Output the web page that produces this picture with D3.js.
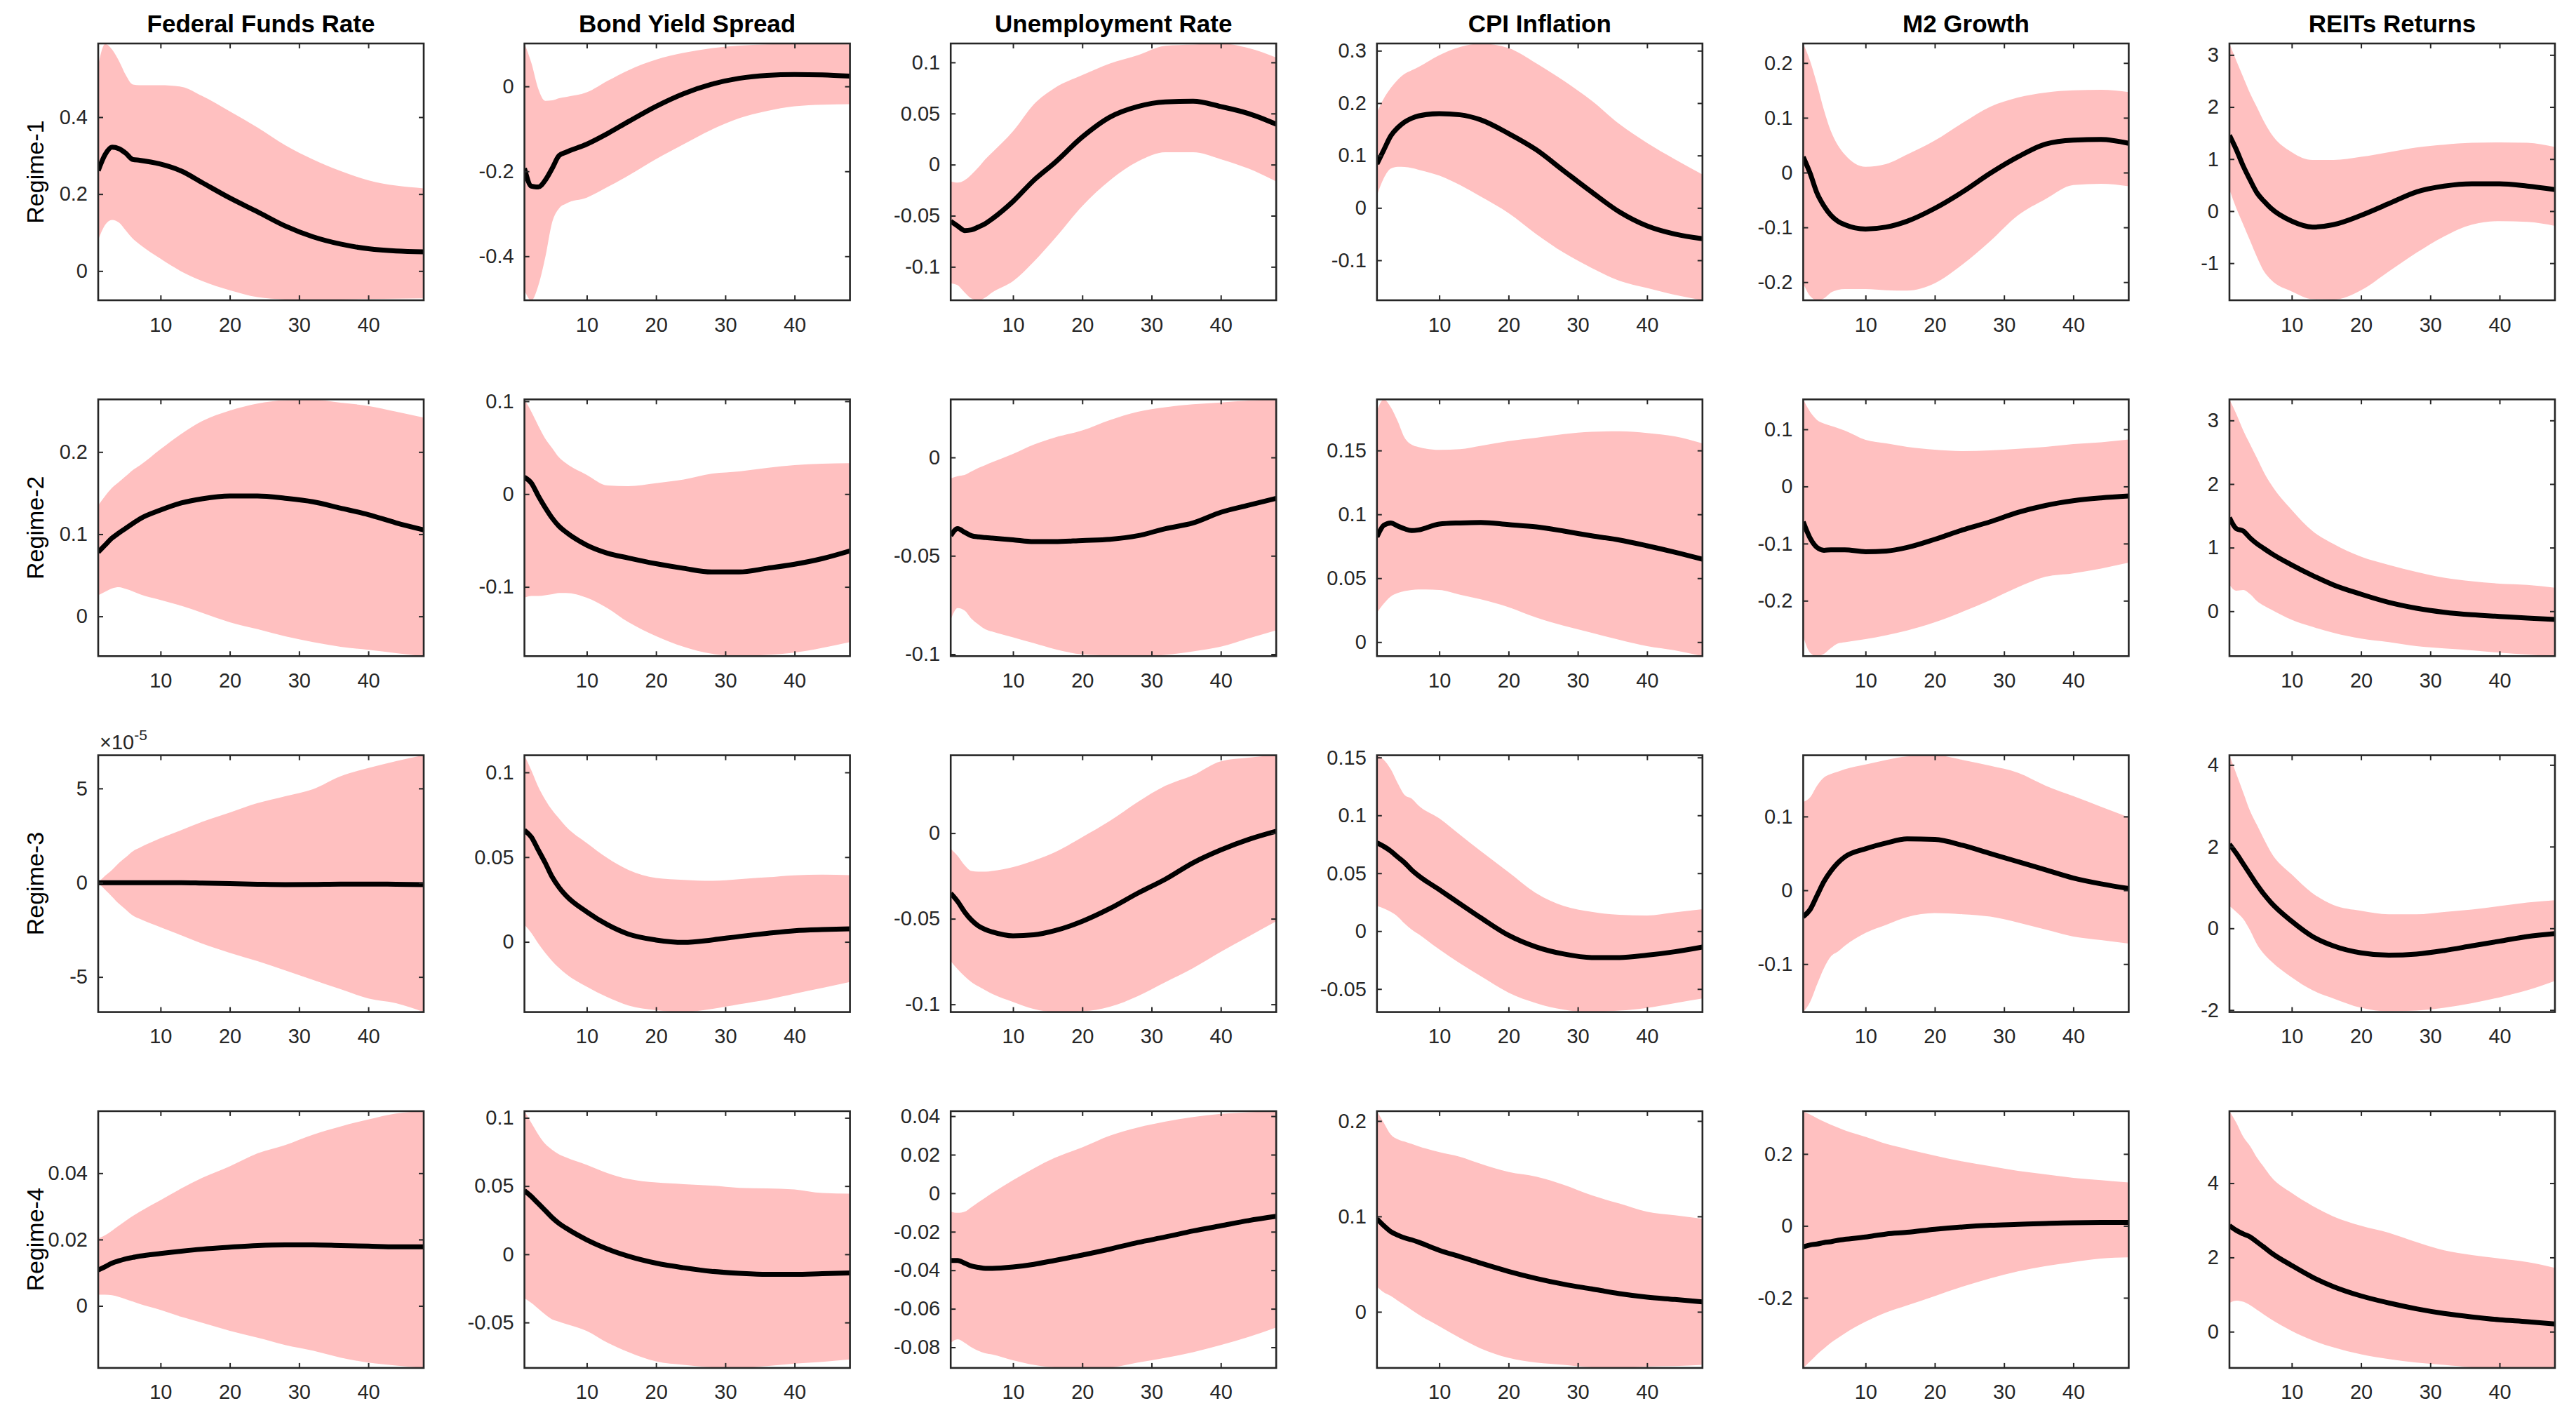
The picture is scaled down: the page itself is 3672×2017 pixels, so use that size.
<!DOCTYPE html>
<html><head><meta charset="utf-8">
<script src="https://cdn.jsdelivr.net/npm/d3@7"></script>
<style>html,body{margin:0;padding:0;background:#fff}</style>
</head><body><svg id="chart"></svg>
<script>
// ---------------- DATA ----------------
const variables = ["Federal Funds Rate","Bond Yield Spread","Unemployment Rate","CPI Inflation","M2 Growth","REITs Returns"];
const regimes = ["Regime-1","Regime-2","Regime-3","Regime-4"];
const horizons = [1,2,3,4,5,6,7,10,13,16,20,24,28,32,36,40,44,48];
const xTicks = [10,20,30,40];

// Federal Funds Rate [regime][horizon]
const ffrMedian = [
 [0.261,0.303,0.322,0.318,0.306,0.29,0.288,0.278,0.26,0.23,0.19,0.154,0.117,0.089,0.07,0.058,0.052,0.05],
 [0.0782,0.0868,0.0953,0.1016,0.1073,0.113,0.1186,0.1294,0.138,0.1431,0.1465,0.1465,0.1437,0.1394,0.1317,0.1238,0.1138,0.1053],
 [0,0,0,0,0,0,0,0,0,-0.02e-5,-0.05e-5,-0.08e-5,-0.1e-5,-0.09e-5,-0.07e-5,-0.07e-5,-0.08e-5,-0.1e-5],
 [0.0108,0.0118,0.0129,0.0136,0.0142,0.0146,0.015,0.0158,0.0165,0.0171,0.0177,0.0182,0.0184,0.0184,0.0182,0.018,0.0178,0.0178]];
const ffrUpper = [
 [0.534,0.59,0.576,0.546,0.509,0.485,0.483,0.483,0.479,0.455,0.415,0.373,0.327,0.29,0.26,0.236,0.222,0.215],
 [0.135,0.1465,0.1565,0.1636,0.1707,0.178,0.1835,0.2034,0.222,0.2375,0.2504,0.259,0.263,0.2637,0.26,0.256,0.249,0.2418],
 [0,0.37e-5,0.68e-5,1.05e-5,1.36e-5,1.67e-5,1.86e-5,2.36e-5,2.79e-5,3.23e-5,3.72e-5,4.22e-5,4.59e-5,4.96e-5,5.65e-5,6.08e-5,6.45e-5,6.76e-5],
 [0.0203,0.0213,0.0227,0.0242,0.0257,0.0271,0.0284,0.0319,0.0354,0.0386,0.0421,0.046,0.0485,0.0516,0.0541,0.0562,0.058,0.0587]];
const ffrLower = [
 [0.081,0.12,0.133,0.126,0.105,0.084,0.069,0.032,-0.001,-0.026,-0.05,-0.068,-0.074,-0.076,-0.074,-0.073,-0.072,-0.071],
 [0.0256,0.0299,0.0341,0.0356,0.0333,0.0304,0.027,0.0199,0.0128,0.0043,-0.0071,-0.0156,-0.0242,-0.0313,-0.037,-0.0407,-0.0447,-0.0484],
 [0,-0.37e-5,-0.74e-5,-1.12e-5,-1.43e-5,-1.74e-5,-1.92e-5,-2.36e-5,-2.79e-5,-3.23e-5,-3.72e-5,-4.16e-5,-4.65e-5,-5.15e-5,-5.65e-5,-6.14e-5,-6.39e-5,-6.86e-5],
 [0.0034,0.0034,0.0032,0.0027,0.002,0.0013,0.0006,-0.0012,-0.0033,-0.0051,-0.0075,-0.0096,-0.0118,-0.0135,-0.0156,-0.0171,-0.018,-0.0187]];

// Bond Yield Spread
const bysMedian = [
 [-0.193,-0.235,-0.237,-0.221,-0.193,-0.163,-0.155,-0.136,-0.111,-0.083,-0.047,-0.017,0.005,0.019,0.026,0.028,0.027,0.024],
 [0.0181,0.0118,-0.002,-0.0146,-0.0259,-0.0348,-0.041,-0.055,-0.0637,-0.0688,-0.075,-0.08,-0.0839,-0.0839,-0.08,-0.0756,-0.0695,-0.0612],
 [0.0659,0.0618,0.0542,0.0466,0.0383,0.0321,0.0273,0.0177,0.0101,0.0046,0.0011,-0.0003,0.0011,0.0032,0.005,0.0066,0.0073,0.0077],
 [0.0466,0.0423,0.0372,0.0321,0.0269,0.0226,0.0192,0.0106,0.0038,-0.0014,-0.0065,-0.0099,-0.0125,-0.0139,-0.0147,-0.0147,-0.0142,-0.0137]];
const bysUpper = [
 [0.101,0.055,-0.006,-0.034,-0.033,-0.028,-0.025,-0.014,0.013,0.038,0.063,0.079,0.09,0.096,0.099,0.1,0.1,0.099],
 [0.102,0.0887,0.0735,0.0597,0.0496,0.0395,0.0332,0.0207,0.0093,0.0086,0.0118,0.0156,0.0219,0.0244,0.0282,0.0312,0.0327,0.0332],
 [0.110,0.1011,0.0914,0.0839,0.0777,0.0728,0.068,0.0583,0.0494,0.0425,0.0377,0.0366,0.036,0.037,0.0381,0.0393,0.0397,0.0394],
 [0.1049,0.0963,0.0878,0.0809,0.0766,0.0732,0.071,0.0655,0.0595,0.0552,0.0526,0.0514,0.0504,0.0487,0.0483,0.0475,0.0449,0.0444]];
const bysLower = [
 [-0.48,-0.504,-0.469,-0.403,-0.32,-0.287,-0.276,-0.262,-0.237,-0.21,-0.171,-0.136,-0.102,-0.075,-0.058,-0.047,-0.043,-0.042],
 [-0.1116,-0.1098,-0.1098,-0.109,-0.1078,-0.1065,-0.1065,-0.1116,-0.1229,-0.138,-0.153,-0.1645,-0.172,-0.1746,-0.1733,-0.1708,-0.1657,-0.1594],
 [0.0101,0.0052,-0.001,-0.0065,-0.0113,-0.0154,-0.0189,-0.0265,-0.0327,-0.0375,-0.0403,-0.0414,-0.0396,-0.0368,-0.0341,-0.0306,-0.0272,-0.0237],
 [-0.0322,-0.0357,-0.0399,-0.0442,-0.0477,-0.0494,-0.0511,-0.0562,-0.0648,-0.0716,-0.0785,-0.0811,-0.0828,-0.0833,-0.0819,-0.0802,-0.0788,-0.0771]];

// Unemployment Rate
const unMedian = [
 [-0.0554,-0.06,-0.0645,-0.0638,-0.061,-0.0577,-0.053,-0.036,-0.0153,0.0018,0.027,0.0465,0.0568,0.0613,0.062,0.0568,0.05,0.0396],
 [-0.0398,-0.0362,-0.038,-0.0398,-0.0404,-0.0407,-0.041,-0.0419,-0.0428,-0.0428,-0.0422,-0.0416,-0.0398,-0.0362,-0.0333,-0.0279,-0.0243,-0.0208],
 [-0.0351,-0.0399,-0.046,-0.0508,-0.0542,-0.0563,-0.0577,-0.06,-0.0594,-0.057,-0.0515,-0.044,-0.0351,-0.0269,-0.0173,-0.0098,-0.0037,0.0011],
 [-0.0349,-0.0349,-0.0363,-0.0378,-0.0385,-0.039,-0.039,-0.0383,-0.0369,-0.0349,-0.0321,-0.029,-0.0256,-0.0227,-0.0196,-0.0169,-0.0142,-0.012]];
const unUpper = [
 [-0.0165,-0.0176,-0.0153,-0.0096,-0.0027,0.0053,0.012,0.0327,0.059,0.075,0.0876,0.099,0.107,0.1162,0.1174,0.1185,0.114,0.1048],
 [-0.0107,-0.0095,-0.0089,-0.0071,-0.0053,-0.0039,-0.0024,0.0018,0.0065,0.0101,0.0137,0.019,0.0232,0.0255,0.027,0.0279,0.0289,0.0295],
 [-0.0092,-0.0133,-0.0187,-0.0221,-0.0225,-0.0225,-0.0221,-0.0198,-0.016,-0.0112,-0.0023,0.0072,0.0182,0.0277,0.0339,0.042,0.0441,0.0455],
 [-0.0096,-0.0102,-0.0096,-0.0072,-0.0047,-0.0023,0.0001,0.0068,0.0129,0.0183,0.0238,0.0299,0.0341,0.0372,0.0396,0.0412,0.042,0.0426]];
const unLower = [
 [-0.116,-0.118,-0.125,-0.131,-0.1327,-0.13,-0.125,-0.114,-0.095,-0.0725,-0.0405,-0.0153,0.003,0.0121,0.0121,0.0053,-0.0039,-0.0165],
 [-0.0825,-0.0766,-0.0778,-0.082,-0.0849,-0.0873,-0.0885,-0.0914,-0.0944,-0.0974,-0.1001,-0.1007,-0.101,-0.1004,-0.0986,-0.0962,-0.092,-0.0879],
 [-0.0747,-0.0795,-0.0836,-0.087,-0.0895,-0.0918,-0.0939,-0.0986,-0.1027,-0.1045,-0.1041,-0.1014,-0.0952,-0.087,-0.0788,-0.0693,-0.0604,-0.0515],
 [-0.0776,-0.0758,-0.0776,-0.08,-0.0818,-0.0831,-0.0837,-0.0867,-0.0891,-0.0904,-0.0907,-0.0904,-0.0879,-0.0855,-0.0825,-0.0788,-0.0746,-0.0697]];

// CPI Inflation
const cpiMedian = [
 [0.084,0.111,0.1375,0.153,0.164,0.171,0.1755,0.18,0.1777,0.168,0.142,0.111,0.0705,0.0304,-0.0076,-0.0344,-0.05,-0.0589],
 [0.0823,0.0915,0.0933,0.0909,0.0887,0.0873,0.0878,0.0924,0.0933,0.0937,0.092,0.0902,0.0869,0.0832,0.0799,0.0754,0.0704,0.0649],
 [0.0762,0.0731,0.0691,0.064,0.059,0.0529,0.0479,0.0358,0.0236,0.0115,-0.0036,-0.0137,-0.0198,-0.0228,-0.0228,-0.0208,-0.0178,-0.0137],
 [0.0975,0.0902,0.0841,0.0804,0.0775,0.0755,0.073,0.0645,0.0578,0.051,0.0424,0.035,0.0289,0.024,0.0191,0.0154,0.013,0.0105]];
const cpiUpper = [
 [0.182,0.209,0.229,0.2446,0.2558,0.2625,0.269,0.2915,0.307,0.3138,0.305,0.276,0.2424,0.2045,0.16,0.124,0.093,0.0638],
 [0.181,0.19,0.1838,0.1729,0.16,0.1546,0.1527,0.1505,0.151,0.1536,0.1573,0.16,0.1628,0.1646,0.165,0.1637,0.161,0.1555],
 [0.1519,0.1479,0.1398,0.1277,0.1176,0.1145,0.1085,0.0974,0.0832,0.0691,0.0509,0.0327,0.0216,0.0166,0.0141,0.0135,0.0162,0.019],
 [0.2103,0.198,0.1858,0.1809,0.1784,0.176,0.1735,0.1674,0.1625,0.1551,0.1466,0.1417,0.1331,0.1221,0.1135,0.1049,0.1012,0.0975]];
const cpiLower = [
 [0.0237,0.057,0.075,0.0786,0.078,0.076,0.0728,0.0616,0.0437,0.0214,-0.0098,-0.05,-0.0857,-0.1147,-0.139,-0.1527,-0.166,-0.1763],
 [0.0229,0.0302,0.0357,0.0384,0.0399,0.0408,0.0412,0.0408,0.0371,0.0335,0.0274,0.0192,0.0128,0.0073,0.0018,-0.0031,-0.0064,-0.011],
 [0.0216,0.0196,0.0166,0.0125,0.0065,0.0014,-0.0026,-0.0158,-0.0279,-0.039,-0.0531,-0.0622,-0.0679,-0.0699,-0.0687,-0.0663,-0.0622,-0.0582],
 [0.0265,0.0203,0.0167,0.0118,0.0069,0.002,-0.0029,-0.0152,-0.0275,-0.0385,-0.0483,-0.0532,-0.0556,-0.0581,-0.0588,-0.0574,-0.0569,-0.0556]];

// M2 Growth
const m2Median = [
 [0.0286,-0.0013,-0.0376,-0.061,-0.078,-0.0888,-0.095,-0.1029,-0.0994,-0.0888,-0.0653,-0.0354,-0.0013,0.0286,0.052,0.0593,0.0606,0.0534],
 [-0.0618,-0.0905,-0.1068,-0.1117,-0.1109,-0.1109,-0.1109,-0.1142,-0.113,-0.1068,-0.0925,-0.0761,-0.0618,-0.0454,-0.0332,-0.025,-0.0201,-0.0168],
 [-0.0357,-0.0261,-0.0071,0.0119,0.0261,0.0372,0.0452,0.0563,0.0642,0.0696,0.0689,0.061,0.0499,0.0388,0.0277,0.0166,0.0087,0.0024],
 [-0.0582,-0.053,-0.0504,-0.0465,-0.0439,-0.04,-0.0374,-0.0309,-0.0224,-0.0179,-0.0094,-0.0029,0.0016,0.0042,0.0068,0.0088,0.0094,0.0094]];
const m2Upper = [
 [0.2356,0.2036,0.161,0.114,0.0755,0.05,0.033,0.0107,0.0158,0.033,0.0585,0.0905,0.12,0.137,0.146,0.15,0.151,0.147],
 [0.1524,0.1306,0.1163,0.1101,0.106,0.102,0.0978,0.0815,0.0753,0.0692,0.0643,0.0618,0.063,0.0659,0.0692,0.0741,0.0774,0.0823],
 [0.1197,0.126,0.1418,0.1529,0.1577,0.1608,0.164,0.1704,0.1767,0.1815,0.183,0.1767,0.1688,0.1593,0.1418,0.1276,0.1133,0.099],
 [0.319,0.3093,0.2995,0.2898,0.2813,0.2735,0.2657,0.2475,0.228,0.2137,0.1954,0.1792,0.1662,0.1532,0.1434,0.1337,0.1272,0.1207]];
const m2Lower = [
 [-0.202,-0.2254,-0.233,-0.2296,-0.219,-0.214,-0.2125,-0.2125,-0.2147,-0.2155,-0.202,-0.1677,-0.125,-0.078,-0.0482,-0.0226,-0.0205,-0.0248],
 [-0.2624,-0.291,-0.297,-0.293,-0.2829,-0.2747,-0.2726,-0.2673,-0.2603,-0.2521,-0.2378,-0.2194,-0.1989,-0.1764,-0.158,-0.1519,-0.1437,-0.1334],
 [-0.165,-0.1513,-0.1276,-0.1054,-0.0896,-0.0832,-0.0753,-0.0578,-0.0468,-0.0363,-0.0309,-0.0325,-0.0357,-0.0436,-0.0531,-0.0626,-0.0674,-0.0721],
 [-0.395,-0.3769,-0.3574,-0.3411,-0.3249,-0.3119,-0.2989,-0.2664,-0.2404,-0.221,-0.195,-0.1689,-0.1461,-0.1267,-0.1117,-0.1005,-0.0908,-0.0876]];

// REITs Returns
const reitMedian = [
 [1.456,1.178,0.863,0.593,0.346,0.189,0.054,-0.193,-0.306,-0.26,-0.081,0.144,0.369,0.481,0.526,0.526,0.481,0.413],
 [1.474,1.298,1.261,1.151,1.059,0.985,0.912,0.728,0.5625,0.415,0.268,0.14,0.048,-0.015,-0.055,-0.081,-0.107,-0.129],
 [2.061,1.832,1.574,1.317,1.059,0.83,0.63,0.172,-0.2,-0.429,-0.601,-0.658,-0.63,-0.544,-0.429,-0.315,-0.2,-0.126],
 [2.854,2.728,2.633,2.551,2.413,2.274,2.129,1.783,1.468,1.216,0.964,0.775,0.617,0.491,0.397,0.321,0.271,0.208]];
const reitUpper = [
 [3.22,2.885,2.57,2.256,1.987,1.717,1.492,1.133,0.984,0.984,1.043,1.133,1.222,1.276,1.312,1.321,1.312,1.231],
 [3.331,3.099,2.842,2.621,2.401,2.18,1.996,1.592,1.261,1.059,0.857,0.728,0.618,0.526,0.471,0.434,0.415,0.371],
 [4.236,3.778,3.32,2.862,2.519,2.175,1.86,1.317,0.859,0.572,0.429,0.343,0.343,0.4,0.458,0.544,0.63,0.687],
 [5.94,5.625,5.247,4.995,4.68,4.428,4.176,3.735,3.389,3.106,2.854,2.665,2.413,2.192,2.066,1.972,1.877,1.72]];
const reitLower = [
 [0.413,0.054,-0.26,-0.575,-0.89,-1.16,-1.317,-1.542,-1.69,-1.7,-1.52,-1.16,-0.8,-0.485,-0.26,-0.193,-0.207,-0.283],
 [0.415,0.324,0.335,0.268,0.158,0.085,0.029,-0.136,-0.246,-0.338,-0.43,-0.485,-0.548,-0.585,-0.614,-0.651,-0.68,-0.706],
 [0.544,0.4,0.229,-0.057,-0.4,-0.63,-0.801,-1.202,-1.517,-1.717,-1.946,-2.032,-2.015,-1.946,-1.832,-1.689,-1.517,-1.288],
 [0.775,0.838,0.806,0.712,0.586,0.46,0.334,0.019,-0.233,-0.422,-0.611,-0.737,-0.831,-0.894,-0.957,-0.976,-0.976,-0.957]];

// Axis limits [variable][regime] and y tick labels
const yLimits = [
 [[-0.076,0.5915],[-0.0484,0.264],[-6.86e-5,6.76e-5],[-0.0187,0.0587]],
 [[-0.5036,0.101],[-0.1746,0.102],[-0.0414,0.1101],[-0.0833,0.1049]],
 [[-0.1327,0.1185],[-0.101,0.0295],[-0.1045,0.0455],[-0.0907,0.0426]],
 [[-0.1763,0.3138],[-0.011,0.19],[-0.0699,0.1519],[-0.0588,0.2103]],
 [[-0.233,0.2356],[-0.297,0.1524],[-0.165,0.183],[-0.395,0.319]],
 [[-1.712,3.22],[-0.706,3.331],[-2.049,4.236],[-0.976,5.94]]];
const yTicks = [
 [[0,0.2,0.4],[0,0.1,0.2],[-5e-5,0,5e-5],[0,0.02,0.04]],
 [[-0.4,-0.2,0],[-0.1,0,0.1],[0,0.05,0.1],[-0.05,0,0.05,0.1]],
 [[-0.1,-0.05,0,0.05,0.1],[-0.1,-0.05,0],[-0.1,-0.05,0],[-0.08,-0.06,-0.04,-0.02,0,0.02,0.04]],
 [[-0.1,0,0.1,0.2,0.3],[0,0.05,0.1,0.15],[-0.05,0,0.05,0.1,0.15],[0,0.1,0.2]],
 [[-0.2,-0.1,0,0.1,0.2],[-0.2,-0.1,0,0.1],[-0.1,0,0.1],[-0.2,0,0.2]],
 [[-1,0,1,2,3],[0,1,2,3],[-2,0,2,4],[0,2,4]]];
// exponent shown above an axis (only Regime-3 Federal Funds Rate)
const yExponent = [[0,0,-5,0],[0,0,0,0],[0,0,0,0],[0,0,0,0],[0,0,0,0],[0,0,0,0]];

const medians = [ffrMedian,bysMedian,unMedian,cpiMedian,m2Median,reitMedian];
const uppers = [ffrUpper,bysUpper,unUpper,cpiUpper,m2Upper,reitUpper];
const lowers = [ffrLower,bysLower,unLower,cpiLower,m2Lower,reitLower];

// ---------------- LAYOUT ----------------
const W = 3672, H = 2017;
const left0 = 140, colStep = 607.6, pw = 464;
const top0 = 62, rowStep = 507.3, ph = 366;
const FONT = "'Liberation Sans', Arial, Helvetica, sans-serif";
const BAND = "#FFC0C0";
const AX = "#262626";

const svg = d3.select("#chart").attr("width", W).attr("height", H)
  .attr("viewBox", `0 0 ${W} ${H}`).style("font-family", FONT);
svg.append("rect").attr("width", W).attr("height", H).attr("fill", "#fff");
const defs = svg.append("defs");

const fmt = v => String(+v.toPrecision(6));

regimes.forEach((reg, r) => {
  variables.forEach((vname, c) => {
    const px = left0 + c * colStep, py = top0 + r * rowStep;
    const g = svg.append("g").attr("transform", `translate(${px},${py})`);
    const x = d3.scaleLinear().domain([1, 48]).range([0, pw]);
    const y = d3.scaleLinear().domain(yLimits[c][r]).range([ph, 0]);
    const id = `clip-${r}-${c}`;
    defs.append("clipPath").attr("id", id).append("rect").attr("width", pw).attr("height", ph);

    const pts = horizons.map((h, i) => ({h, m: medians[c][r][i], lo: lowers[c][r][i], hi: uppers[c][r][i]}));
    const plot = g.append("g").attr("clip-path", `url(#${id})`);
    plot.append("path").datum(pts)
      .attr("d", d3.area().x(d => x(d.h)).y0(d => y(d.lo)).y1(d => y(d.hi)).curve(d3.curveMonotoneX))
      .attr("fill", BAND).attr("stroke", "none");
    plot.append("path").datum(pts)
      .attr("d", d3.line().x(d => x(d.h)).y(d => y(d.m)).curve(d3.curveMonotoneX))
      .attr("fill", "none").attr("stroke", "#000").attr("stroke-width", 7)
      .attr("stroke-linejoin", "round").attr("stroke-linecap", "butt");

    const ex = yExponent[c][r];
    const tf = ex ? (v => fmt(v / Math.pow(10, ex))) : fmt;
    const styleAxis = sel => {
      sel.select(".domain").remove();
      sel.selectAll("line").attr("stroke", AX).attr("stroke-width", 2);
      sel.selectAll("text").attr("fill", AX).style("font-size", "29px").style("font-family", FONT);
    };
    g.append("g").call(d3.axisLeft(y).tickValues(yTicks[c][r]).tickSize(-7).tickPadding(15).tickFormat(tf)).call(styleAxis);
    g.append("g").attr("transform", `translate(${pw},0)`)
      .call(d3.axisRight(y).tickValues(yTicks[c][r]).tickSize(-7).tickFormat("")).call(styleAxis);
    g.append("g").attr("transform", `translate(0,${ph})`)
      .call(d3.axisBottom(x).tickValues(xTicks).tickSize(-7).tickPadding(24).tickFormat(d3.format("d"))).call(styleAxis);
    g.append("g")
      .call(d3.axisTop(x).tickValues(xTicks).tickSize(-7).tickFormat("")).call(styleAxis);

    g.append("rect").attr("width", pw).attr("height", ph)
      .attr("fill", "none").attr("stroke", AX).attr("stroke-width", 2.6);

    if (ex) {
      const t = g.append("text").attr("x", 2).attr("y", -9).attr("fill", AX)
        .style("font-size", "29px");
      t.append("tspan").text("×10");
      t.append("tspan").attr("dy", -13).style("font-size", "21px").text(String(ex));
    }
    if (r === 0) {
      g.append("text").attr("x", pw / 2).attr("y", -16).attr("text-anchor", "middle")
        .attr("fill", "#000").style("font-size", "35px").style("font-weight", "bold").text(vname);
    }
    if (c === 0) {
      g.append("text").attr("transform", `translate(${50 - px + 12},${ph / 2}) rotate(-90)`)
        .attr("text-anchor", "middle").attr("fill", "#000").style("font-size", "34px").text(reg);
    }
  });
});
</script></body></html>
